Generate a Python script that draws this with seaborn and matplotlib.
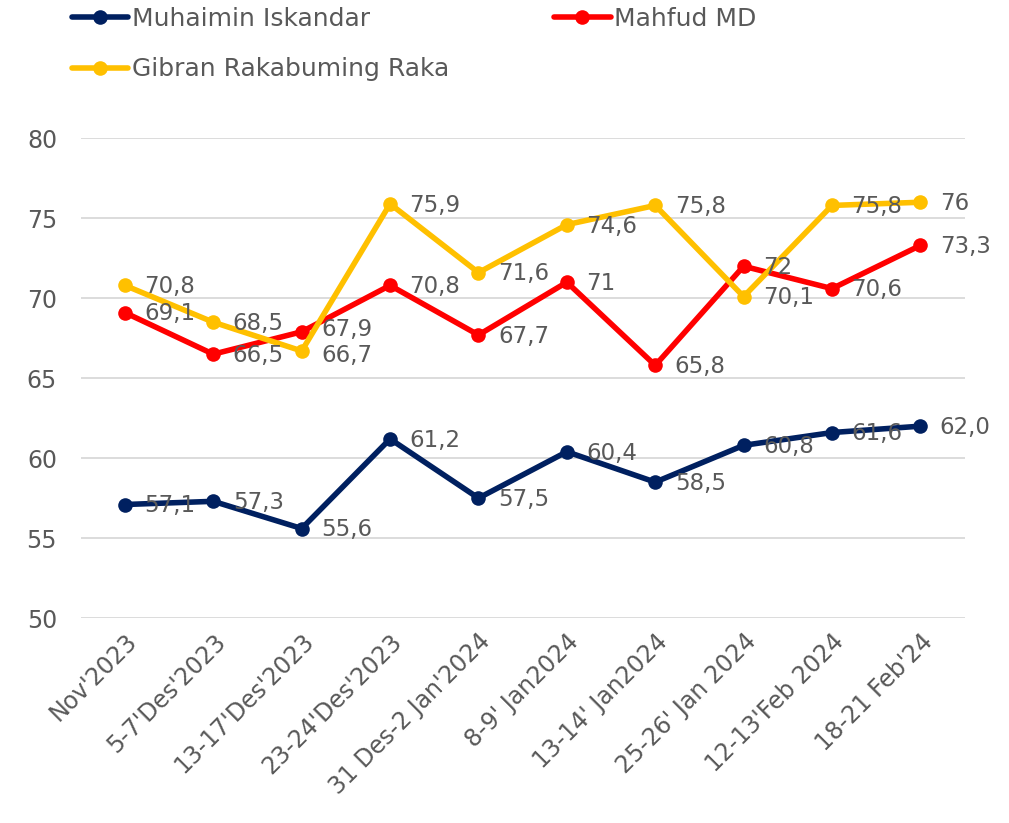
import matplotlib
matplotlib.use("Agg")
import matplotlib.pyplot as plt
import seaborn as sns
import pandas as pd

# data
periods = ["Nov'2023", "5-7'Des'2023", "13-17'Des'2023", "23-24'Des'2023",
           "31 Des-2 Jan'2024", "8-9' Jan2024", "13-14' Jan2024",
           "25-26' Jan 2024", "12-13'Feb 2024", "18-21 Feb'24"]
muhaimin = [57.1, 57.3, 55.6, 61.2, 57.5, 60.4, 58.5, 60.8, 61.6, 62.0]
mahfud = [69.1, 66.5, 67.9, 70.8, 67.7, 71.0, 65.8, 72.0, 70.6, 73.3]
gibran = [70.8, 68.5, 66.7, 75.9, 71.6, 74.6, 75.8, 70.1, 75.8, 76.0]
muhaimin_lbl = ["57,1", "57,3", "55,6", "61,2", "57,5", "60,4", "58,5", "60,8", "61,6", "62,0"]
mahfud_lbl = ["69,1", "66,5", "67,9", "70,8", "67,7", "71", "65,8", "72", "70,6", "73,3"]
gibran_lbl = ["70,8", "68,5", "66,7", "75,9", "71,6", "74,6", "75,8", "70,1", "75,8", "76"]

names = ["Muhaimin Iskandar", "Mahfud MD", "Gibran Rakabuming Raka"]
colors = {"Muhaimin Iskandar": "#002060", "Mahfud MD": "#FF0000",
          "Gibran Rakabuming Raka": "#FFC000"}

rows = []
for name, vals, lbls in zip(names, [muhaimin, mahfud, gibran],
                            [muhaimin_lbl, mahfud_lbl, gibran_lbl]):
    for i, (v, l) in enumerate(zip(vals, lbls)):
        rows.append({"idx": i, "value": v, "label": l, "name": name})
df = pd.DataFrame(rows)

# small vertical nudges (points) so the two close labels don't collide
nudge = {("Mahfud MD", 2): 2.5, ("Gibran Rakabuming Raka", 2): -2.5}

sns.set_style("white")
plt.rcParams['font.family'] = ['DejaVu Sans']
text_col = "#595959"

fig = plt.figure(figsize=(10.09, 8.23), dpi=100)
ax = fig.add_axes([0.080, 0.249, 0.876, 0.583])

sns.lineplot(data=df, x="idx", y="value", hue="name", hue_order=names,
             palette=colors, marker="o", markersize=10.5, markeredgewidth=0,
             linewidth=4, ax=ax)

# data labels to the right of each point
for _, r in df.iterrows():
    dy = -1 + nudge.get((r["name"], r["idx"]), 0)
    ax.annotate(r["label"], (r["idx"], r["value"]), xytext=(14, dy),
                textcoords="offset points", ha="left", va="center",
                fontsize=16.5, color=text_col)

ax.set_xlim(-0.5, 9.5)
ax.set_ylim(50, 80)
ax.set_yticks([50, 55, 60, 65, 70, 75, 80])
ax.set_xticks(range(len(periods)))
ax.set_xticklabels(periods, rotation=45, ha="right", rotation_mode="anchor",
                   fontsize=17, color=text_col)
ax.tick_params(axis="y", labelsize=17, labelcolor=text_col, length=0, pad=17)
ax.tick_params(axis="x", length=0, pad=8)
ax.yaxis.grid(True, color="#D9D9D9", linewidth=1.3)
ax.set_axisbelow(True)
for s in ax.spines.values():
    s.set_visible(False)
ax.set_xlabel("")
ax.set_ylabel("")

# legend: Muhaimin / Gibran in first column, Mahfud in second
h, l = ax.get_legend_handles_labels()
ax.get_legend().remove()
order = [0, 2, 1]
leg = fig.legend([h[i] for i in order], [l[i] for i in order], ncol=2,
                 loc="upper left", bbox_to_anchor=(72 / 1009, 1 - 7 / 823),
                 frameon=False, fontsize=18, handlelength=2.25,
                 handletextpad=0.15, columnspacing=4.2, labelspacing=1.05,
                 borderaxespad=0, borderpad=0)
for t in leg.get_texts():
    t.set_color(text_col)

fig.savefig("out.png", dpi=100)
